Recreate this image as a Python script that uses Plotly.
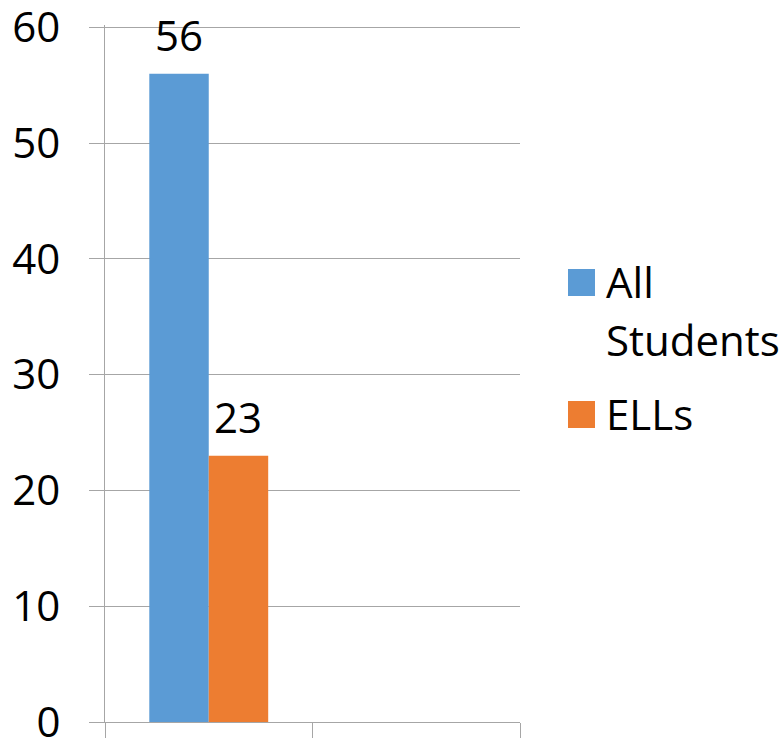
import plotly.graph_objects as go

# Chart data
categories = ["Category 1", "Category 2"]
series_names = ["All Students", "ELLs"]
all_students = [56, None]
ells = [23, None]
y_ticks = [0, 10, 20, 30, 40, 50, 60]

colors = ["#5B9BD5", "#ED7D31"]
grid_color = "#A6A6A6"
font_family = "Open Sans, Noto Sans, DejaVu Sans, sans-serif"
font_size = 42
bar_gap = 0.427

fig = go.Figure()
series_values = [all_students, ells]
for name, vals, col in zip(series_names, series_values, colors):
    fig.add_trace(go.Bar(
        x=categories, y=vals, name=name,
        marker=dict(color=col, line=dict(width=0)),
        showlegend=False,
    ))

# Value labels above each bar (offset within the group like the bars themselves)
n_series = len(series_values)
bar_w = (1 - bar_gap) / n_series
for s, vals in enumerate(series_values):
    for c, v in enumerate(vals):
        if v is None:
            continue
        xpos = c - (1 - bar_gap) / 2 + bar_w * (s + 0.5)
        fig.add_annotation(
            x=xpos, y=v, xref="x", yref="y", text=str(v), showarrow=False,
            xanchor="center", yanchor="bottom", yshift=9,
            font=dict(size=font_size, family=font_family, color="#000000"),
        )

fig.update_layout(
    width=782, height=738,
    margin=dict(l=105, r=262, t=25, b=16, autoexpand=False),
    paper_bgcolor="white", plot_bgcolor="white",
    barmode="group", bargap=bar_gap, bargroupgap=0,
    font=dict(family=font_family, size=font_size, color="#000000"),
    showlegend=False,
)
fig.update_xaxes(
    type="category", showticklabels=False, showgrid=False, automargin=False,
    tickson="boundaries", ticks="outside", ticklen=16, tickwidth=1.4,
    tickcolor=grid_color, showline=True, linecolor=grid_color, linewidth=1.4,
    zeroline=False,
)
fig.update_yaxes(
    range=[0, 60.2], tickvals=y_ticks, ticks="outside", ticklen=15,
    tickwidth=1.4, tickcolor=grid_color, showgrid=True, gridcolor=grid_color,
    gridwidth=1.4, showline=True, linecolor=grid_color, linewidth=1.4,
    zeroline=False, ticklabelstandoff=20, automargin=False,
    ticklabeloverflow="allow",
    tickfont=dict(size=font_size, family=font_family, color="#000000"),
)

# Legend drawn at the right of the plot area: colored squares with wrapped labels
plot_w, plot_h = 415.0, 697.0
def px_x(x):
    return (x - 105) / plot_w
def px_y(y):
    return (722 - y) / plot_h

legend_rows = [
    (269, ["All", "Students"]),
    (401, ["ELLs"]),
]
line_gap = 58
for (top, lines), col in zip(legend_rows, colors):
    fig.add_shape(type="rect", xref="paper", yref="paper",
                  x0=px_x(568), x1=px_x(595), y0=px_y(top + 27), y1=px_y(top),
                  fillcolor=col, line=dict(width=0))
    baseline = top + 26
    for i, ln in enumerate(lines):
        fig.add_annotation(
            xref="paper", yref="paper", x=px_x(604), y=px_y(baseline + i * line_gap - 14),
            text=ln, showarrow=False, xanchor="left", yanchor="middle",
            font=dict(size=font_size, family=font_family, color="#000000"),
        )

fig.write_html("out.html")
